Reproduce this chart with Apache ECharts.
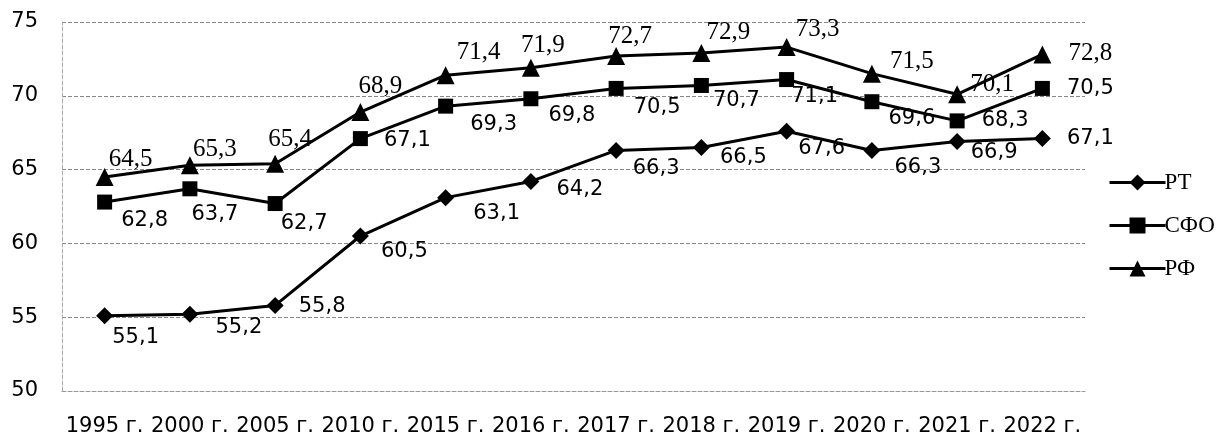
<!DOCTYPE html>
<html><head><meta charset="utf-8">
<script src="https://cdn.jsdelivr.net/npm/echarts@6/dist/echarts.min.js"></script>
<style>html,body{margin:0;padding:0;background:#fff}#c{width:1223px;height:443px}</style>
</head><body><div id="c"></div>
<script>
const categories = ['1995 г.','2000 г.','2005 г.','2010 г.','2015 г.','2016 г.','2017 г.','2018 г.','2019 г.','2020 г.','2021 г.','2022 г.'];
const seriesNames = ['РТ','СФО','РФ'];
const rtValues  = [55.1,55.2,55.8,60.5,63.1,64.2,66.3,66.5,67.6,66.3,66.9,67.1];
const sfoValues = [62.8,63.7,62.7,67.1,69.3,69.8,70.5,70.7,71.1,69.6,68.3,70.5];
const rfValues  = [64.5,65.3,65.4,68.9,71.4,71.9,72.7,72.9,73.3,71.5,70.1,72.8];
const yTicks = [50,55,60,65,70,75];

// label offsets (layout only)
const rtOffsets  = [[31,22],[49,13],[47,1],[44,16],[51,16],[49,8],[40,18],[42,10],[35,17],[46,17],[37,11],[48,0]];
const sfoOffsets = [[40,18],[25,26],[29,20],[47,2],[48,18],[41,17],[41,19],[35,15],[28,17],[40,17],[48,0],[48,0]];
const rfOffsets  = [[26,-18],[25,-16],[15,-24],[20,-26],[33,-23],[12,-22],[14,-20],[27,-21],[31,-18],[40,-12],[35,-10],[48,-1]];

const fmt = v => String(v).replace('.', ',');
function build(values, offsets){
  return values.map((v,i)=>({value:v, label:{offset:offsets[i]}}));
}
const sansLabel = {show:true, position:'inside', fontFamily:'DejaVu Sans', fontSize:21, color:'#000', formatter:p=>fmt(p.value)};
const serifLabel = {show:true, position:'inside', fontFamily:'Liberation Serif', fontSize:25, color:'#000', formatter:p=>fmt(p.value)};

const chart = echarts.init(document.getElementById('c'), null, {renderer:'canvas'});
chart.setOption({
  animation:false,
  backgroundColor:'#fff',
  grid:{left:62, right:138, top:22, bottom:52, containLabel:false},
  legend:{
    orient:'vertical', left:1103, top:166, itemWidth:56, itemHeight:20, itemGap:20,
    data:seriesNames,
    lineStyle:{width:3, color:'#000'},
    textStyle:{fontFamily:'Liberation Serif', fontSize:23, color:'#000', padding:[0,0,0,-6]}
  },
  xAxis:{
    type:'category', data:categories, boundaryGap:true,
    axisLine:{show:true, lineStyle:{color:'#999', type:'dashed', width:1}},
    axisTick:{show:false},
    axisLabel:{fontFamily:'DejaVu Sans', fontSize:21, color:'#000', margin:25, interval:0}
  },
  yAxis:{
    type:'value', min:yTicks[0], max:yTicks[yTicks.length-1], interval:5,
    axisLine:{show:true, lineStyle:{color:'#aaa', type:'dashed', width:1}},
    axisTick:{show:false},
    axisLabel:{fontFamily:'DejaVu Sans', fontSize:21, color:'#000', margin:24},
    splitLine:{show:true, lineStyle:{color:'#888', type:'dashed', width:1}}
  },
  series:[
    {name:'РТ', type:'line', data:build(rtValues, rtOffsets), symbol:'diamond', symbolSize:17,
      lineStyle:{color:'#000', width:3}, itemStyle:{color:'#000'}, label:sansLabel},
    {name:'СФО', type:'line', data:build(sfoValues, sfoOffsets), symbol:'rect', symbolSize:15,
      lineStyle:{color:'#000', width:3}, itemStyle:{color:'#000'}, label:sansLabel},
    {name:'РФ', type:'line', data:build(rfValues, rfOffsets), symbol:'triangle', symbolSize:18,
      lineStyle:{color:'#000', width:3}, itemStyle:{color:'#000'}, label:serifLabel}
  ]
});
</script></body></html>
